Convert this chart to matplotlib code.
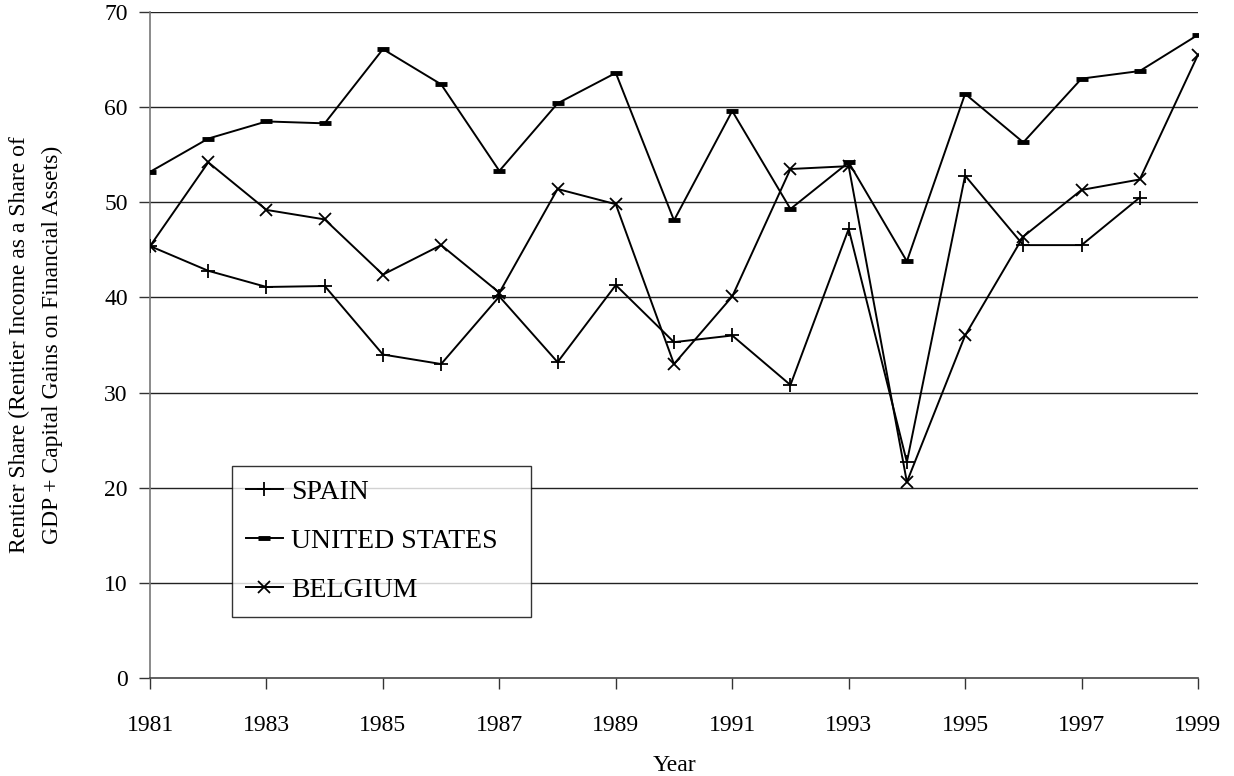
import matplotlib.pyplot as plt
import numpy as np

plt.rcParams['font.family'] = ['Liberation Serif', 'DejaVu Serif']

# Data
years = np.arange(1981, 2000)
spain = [45.4, 42.8, 41.1, 41.2, 34.0, 33.0, 40.1, 33.2, 41.3, 35.3,
         36.0, 30.8, 47.2, 22.7, 52.8, 45.5, 45.5, 50.5, np.nan]
united_states = [53.2, 56.7, 58.5, 58.3, 66.1, 62.4, 53.3, 60.4, 63.6, 48.1,
                 59.6, 49.3, 54.2, 43.8, 61.4, 56.3, 63.0, 63.8, 67.6]
belgium = [45.4, 54.2, 49.2, 48.2, 42.4, 45.5, 40.5, 51.4, 49.8, 33.0,
           40.1, 53.5, 53.8, 20.6, 36.0, 46.4, 51.3, 52.4, 65.5]

fig = plt.figure(figsize=(12.34, 7.76), dpi=100)
ax = fig.add_axes([0.1216, 0.1263, 0.8492, 0.8582])

# Horizontal gridlines
for yv in range(10, 71, 10):
    ax.axhline(yv, color='#222222', linewidth=1.0, zorder=1)

ax.plot(years, spain, color='black', linewidth=1.4, marker='+',
        markersize=10, markeredgewidth=1.3, label='SPAIN', zorder=3)
ax.plot(years, united_states, color='black', linewidth=1.4, marker='_',
        markersize=8, markeredgewidth=3.5, label='UNITED STATES', zorder=3)
ax.plot(years, belgium, color='black', linewidth=1.4, marker='x',
        markersize=9, markeredgewidth=1.3, label='BELGIUM', zorder=3)

ax.set_xlim(1981, 1999)
ax.set_ylim(0, 70)
ax.set_xticks(np.arange(1981, 2000, 2))
ax.set_yticks(np.arange(0, 71, 10))
ax.tick_params(axis='both', labelsize=17, direction='out', length=8,
               width=1.0, color='#333333')
ax.tick_params(axis='x', pad=19)
ax.tick_params(axis='y', pad=8)

for side in ['top', 'right']:
    ax.spines[side].set_visible(False)
ax.spines['left'].set_color('#777777')
ax.spines['left'].set_linewidth(1.2)
ax.spines['bottom'].set_color('#444444')
ax.spines['bottom'].set_linewidth(1.2)

ax.set_xlabel('Year', fontsize=17, labelpad=13)
ax.set_ylabel('Rentier Share (Rentier Income as a Share of\nGDP + Capital Gains on Financial Assets)',
              fontsize=17, labelpad=30, linespacing=1.7)

leg = ax.legend(loc='lower left', bbox_to_anchor=(0.078, 0.0916, 0.2853, 0.22),
                mode='expand', fontsize=20,
                frameon=True, fancybox=False, edgecolor='black',
                handlelength=1.33, handletextpad=0.3, borderpad=0.5,
                labelspacing=0.85, borderaxespad=0)
leg.get_frame().set_linewidth(1.0)
leg.get_frame().set_facecolor('white')
leg.set_zorder(5)

fig.savefig('out.png', dpi=100)
